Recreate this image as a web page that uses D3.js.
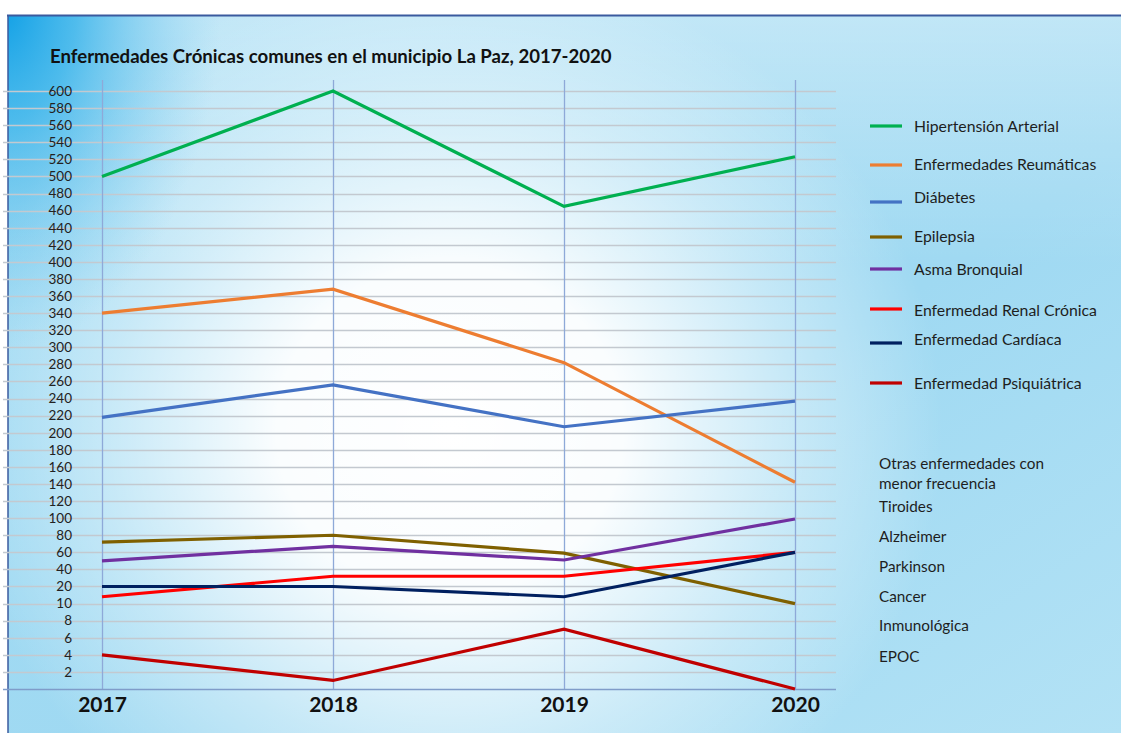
<!DOCTYPE html>
<html>
<head>
<meta charset="utf-8">
<script src="https://cdn.jsdelivr.net/npm/d3@7/dist/d3.min.js"></script>
<style>
  html, body { margin: 0; padding: 0; background: #fff; }
  svg { display: block; font-family: Lato, "Noto Sans", sans-serif; }
</style>
</head>
<body>
<svg id="chart" width="1121" height="733"></svg>
<script>
// ---- data ----
const years = ["2017", "2018", "2019", "2020"];
const seriesNames = [
  "Hipertensión Arterial",
  "Enfermedades Reumáticas",
  "Diábetes",
  "Epilepsia",
  "Asma Bronquial",
  "Enfermedad Renal Crónica",
  "Enfermedad Cardíaca",
  "Enfermedad Psiquiátrica"
];
const hipertension = [500, 600, 465, 523];
const reumaticas   = [340, 368, 282, 142];
const diabetes     = [218, 256, 207, 237];
const epilepsia    = [72, 80, 59, 10];
const asma         = [50, 67, 51, 99];
const renal        = [14, 32, 32, 60];
const cardiaca     = [20, 20, 14, 60];
const psiquiatrica = [4, 1, 7, 0];
const seriesColors = ["#00B050", "#ED7D31", "#4472C4", "#7F6000", "#7030A0", "#FF0000", "#002060", "#C00000"];
const yTicks = [2, 4, 6, 8, 10, 20, 40, 60, 80, 100, 120, 140, 160, 180, 200, 220, 240, 260, 280, 300,
                320, 340, 360, 380, 400, 420, 440, 460, 480, 500, 520, 540, 560, 580, 600];
const otrasTitulo = ["Otras enfermedades con", "menor frecuencia"];
const otras = ["Tiroides", "Alzheimer", "Parkinson", "Cancer", "Inmunológica", "EPOC"];

const title = "Enfermedades Crónicas comunes en el municipio La Paz, 2017-2020";

const allSeries = [hipertension, reumaticas, diabetes, epilepsia, asma, renal, cardiaca, psiquiatrica];

// ---- layout ----
const svg = d3.select("#chart");
const W = 1121, H = 733;
const plotTop = 91, plotBottom = 689;
const step = (plotBottom - plotTop) / 35;
const textFont = "Lato, 'Noto Sans', sans-serif";

// the value axis is stretched: 0-10 in steps of 2, then 10-20, then steps of 20 up to 600
const y = d3.scaleLinear()
  .domain([0, 10, 20, 600])
  .range([plotBottom, plotBottom - 5 * step, plotBottom - 6 * step, plotTop]);
const x = d3.scalePoint().domain(years).range([102, 795]);

// ---- background ----
const defs = svg.append("defs");
const base = defs.append("linearGradient").attr("id", "bgBase")
  .attr("x1", 0).attr("y1", 0).attr("x2", 1).attr("y2", 1);
base.append("stop").attr("offset", 0).attr("stop-color", "#a2dbf3");
base.append("stop").attr("offset", 0.6).attr("stop-color", "#9fd9f2");
base.append("stop").attr("offset", 1).attr("stop-color", "#b3e2f5");

const glow = defs.append("radialGradient").attr("id", "bgGlow")
  .attr("gradientUnits", "userSpaceOnUse")
  .attr("cx", 450).attr("cy", 430).attr("r", 470)
  .attr("gradientTransform", "translate(450,430) scale(1.05,1) translate(-450,-430)");
glow.append("stop").attr("offset", 0).attr("stop-color", "#ffffff").attr("stop-opacity", 1);
glow.append("stop").attr("offset", 0.35).attr("stop-color", "#ffffff").attr("stop-opacity", 0.95);
glow.append("stop").attr("offset", 0.7).attr("stop-color", "#ffffff").attr("stop-opacity", 0.4);
glow.append("stop").attr("offset", 1).attr("stop-color", "#ffffff").attr("stop-opacity", 0);

const topLight = defs.append("linearGradient").attr("id", "bgTop")
  .attr("x1", 0).attr("y1", 0).attr("x2", 0).attr("y2", 1);
topLight.append("stop").attr("offset", 0).attr("stop-color", "#ffffff").attr("stop-opacity", 0.35);
topLight.append("stop").attr("offset", 0.35).attr("stop-color", "#ffffff").attr("stop-opacity", 0);

const corner = defs.append("radialGradient").attr("id", "bgCorner")
  .attr("gradientUnits", "userSpaceOnUse")
  .attr("cx", 0).attr("cy", 0).attr("r", 260)
  .attr("gradientTransform", "scale(0.85,1.35)");
corner.append("stop").attr("offset", 0).attr("stop-color", "#0a9de5").attr("stop-opacity", 1);
corner.append("stop").attr("offset", 0.35).attr("stop-color", "#2aaee9").attr("stop-opacity", 0.75);
corner.append("stop").attr("offset", 1).attr("stop-color", "#7fccef").attr("stop-opacity", 0);

["url(#bgBase)", "url(#bgTop)", "url(#bgGlow)", "url(#bgCorner)"].forEach(f => {
  svg.append("rect").attr("x", 8).attr("y", 15).attr("width", W - 8).attr("height", H - 15).attr("fill", f);
});

// frame
svg.append("line").attr("x1", 7).attr("x2", W).attr("y1", 15.5).attr("y2", 15.5)
  .attr("stroke", "#3a5a9e").attr("stroke-width", 2);
svg.append("line").attr("x1", 8).attr("x2", 8).attr("y1", 15).attr("y2", H)
  .attr("stroke", "#3a5a9e").attr("stroke-width", 1.5);

// ---- title ----
svg.append("text")
  .attr("x", 50).attr("y", 63)
  .attr("font-size", 18.6).attr("font-weight", 700).attr("fill", "#111")
  .text(title);

// ---- grid ----
const grid = svg.append("g");
grid.selectAll("line.h").data(yTicks).join("line")
  .attr("x1", 3).attr("x2", 836)
  .attr("y1", d => Math.round(y(d)) + 0.5).attr("y2", d => Math.round(y(d)) + 0.5)
  .attr("stroke", "#c3c9d0").attr("stroke-width", 1.3);

grid.selectAll("line.v").data(years).join("line")
  .attr("x1", d => x(d) + 0.5).attr("x2", d => x(d) + 0.5)
  .attr("y1", 80).attr("y2", plotBottom)
  .attr("stroke", "#8ea9d8").attr("stroke-width", 1.3);

// y axis labels
const yAxis = d3.axisLeft(y).tickValues(yTicks).tickSize(0).tickPadding(0);
const yg = svg.append("g").attr("transform", "translate(72,0)").call(yAxis);
yg.select(".domain").remove();
yg.selectAll("text").attr("font-size", 13.5).attr("fill", "#222").attr("font-family", textFont);

// x axis
svg.append("line").attr("x1", 3).attr("x2", 836).attr("y1", plotBottom + 0.5).attr("y2", plotBottom + 0.5)
  .attr("stroke", "#7f9cc9").attr("stroke-width", 1.3);
const xAxis = d3.axisBottom(x).tickSize(0).tickPadding(0);
const xg = svg.append("g").attr("transform", `translate(0,${plotBottom})`).call(xAxis);
xg.select(".domain").remove();
xg.selectAll("text").attr("dy", null).attr("y", 23)
  .attr("font-size", 21).attr("font-weight", 700).attr("fill", "#111")
  .attr("font-family", textFont);

// ---- lines ----
const line = d3.line().x((d, i) => x(years[i])).y(d => y(d));
svg.append("g").selectAll("path").data(allSeries).join("path")
  .attr("d", line)
  .attr("fill", "none")
  .attr("stroke", (d, i) => seriesColors[i])
  .attr("stroke-width", 3.2)
  .attr("stroke-linejoin", "miter");

// ---- legend ----
const legendLineY = [126, 165, 202, 237, 269, 309, 343, 383];
const legendTextY = [126, 164, 197, 236, 269, 310, 339, 383];
const lg = svg.append("g");
seriesNames.forEach((name, i) => {
  lg.append("line").attr("x1", 870).attr("x2", 902)
    .attr("y1", legendLineY[i]).attr("y2", legendLineY[i])
    .attr("stroke", seriesColors[i]).attr("stroke-width", 3.2);
  lg.append("text").attr("x", 914).attr("y", legendTextY[i]).attr("dy", "0.35em")
    .attr("font-size", 15.8).attr("fill", "#1e1e1e").text(name);
});

// ---- less frequent diseases ----
const otrasY = [464, 484];
otrasTitulo.forEach((t, i) => {
  svg.append("text").attr("x", 879).attr("y", otrasY[i]).attr("dy", "0.35em")
    .attr("font-size", 15.3).attr("fill", "#1e1e1e").text(t);
});
const otrasListY = [507, 537, 567, 597, 626, 657];
otras.forEach((t, i) => {
  svg.append("text").attr("x", 879).attr("y", otrasListY[i]).attr("dy", "0.35em")
    .attr("font-size", 15.3).attr("fill", "#1e1e1e").text(t);
});
</script>
</body>
</html>
